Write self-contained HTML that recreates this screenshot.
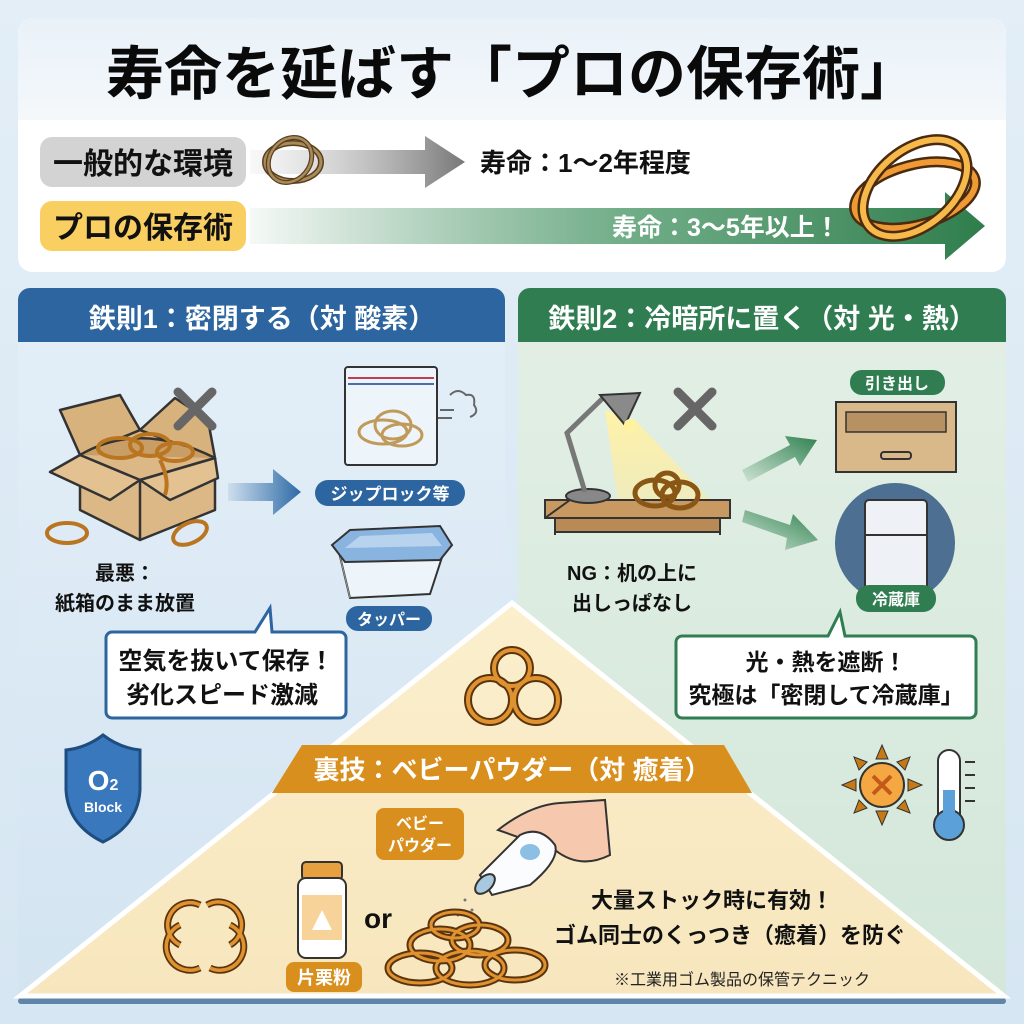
<!DOCTYPE html>
<html><head><meta charset="utf-8"><style>
html,body{margin:0;padding:0;width:1024px;height:1024px;overflow:hidden;background:#dce9f4}
svg{display:block}
text{font-family:"Liberation Sans","Noto Sans CJK JP",sans-serif;font-weight:bold}
</style></head><body>
<svg width="1024" height="1024" viewBox="0 0 1024 1024" xmlns="http://www.w3.org/2000/svg">
<defs>
<linearGradient id="bg" x1="0" y1="0" x2="0" y2="1"><stop offset="0" stop-color="#e3eef7"/><stop offset="1" stop-color="#d6e6f2"/></linearGradient>
<linearGradient id="tband" x1="0" y1="0" x2="0" y2="1"><stop offset="0" stop-color="#e9f1f8"/><stop offset="1" stop-color="#f4f8fb"/></linearGradient>
<linearGradient id="garr" x1="0" y1="0" x2="1" y2="0"><stop offset="0" stop-color="#bcbcbc" stop-opacity="0.1"/><stop offset="1" stop-color="#777"/></linearGradient>
<linearGradient id="grarr" x1="0" y1="0" x2="1" y2="0"><stop offset="0" stop-color="#3d8a5a" stop-opacity="0.05"/><stop offset="0.5" stop-color="#4f9a6c" stop-opacity="0.8"/><stop offset="1" stop-color="#2f7d4c"/></linearGradient>
<linearGradient id="barr" x1="0" y1="0" x2="1" y2="0"><stop offset="0" stop-color="#2e6aa6" stop-opacity="0.1"/><stop offset="1" stop-color="#2e6aa6"/></linearGradient>
<linearGradient id="grarr2" x1="0" y1="1" x2="1" y2="0"><stop offset="0" stop-color="#3a8a58" stop-opacity="0.1"/><stop offset="1" stop-color="#2f8050"/></linearGradient>
<linearGradient id="lpanel" x1="0" y1="0" x2="0" y2="1"><stop offset="0" stop-color="#e4eff8"/><stop offset="1" stop-color="#d3e4f1"/></linearGradient>
<linearGradient id="rpanel" x1="0" y1="0" x2="0" y2="1"><stop offset="0" stop-color="#e3efe5"/><stop offset="1" stop-color="#d3e7da"/></linearGradient>
<linearGradient id="tri" x1="0" y1="0" x2="0" y2="1"><stop offset="0" stop-color="#fbefcd"/><stop offset="1" stop-color="#f7e6bd"/></linearGradient>
<linearGradient id="beam" x1="0" y1="0" x2="0" y2="1"><stop offset="0" stop-color="#fff3a8"/><stop offset="1" stop-color="#fbe9a0" stop-opacity="0.5"/></linearGradient>
</defs>
<rect width="1024" height="1024" fill="url(#bg)"/>
<!-- top card -->
<rect x="18" y="18" width="988" height="254" rx="14" fill="#ffffff"/>
<path d="M18 32 a14 14 0 0 1 14 -14 h960 a14 14 0 0 1 14 14 v88 h-988z" fill="url(#tband)"/>
<text x="512" y="94" font-size="58" text-anchor="middle" fill="#0a0a0a">寿命を延ばす「プロの保存術」</text>
<rect x="40" y="137" width="206" height="50" rx="12" fill="#d3d3d3"/>
<text x="143" y="174" font-size="30" text-anchor="middle" fill="#111">一般的な環境</text>
<path d="M250 150 h175 v-14 l40 26 l-40 26 v-14 h-175z" fill="url(#garr)"/>
<ellipse cx="293" cy="162" rx="28" ry="19" fill="none" stroke="#5a4020" stroke-width="6"/>
<ellipse cx="293" cy="162" rx="28" ry="19" fill="none" stroke="#a98a5a" stroke-width="3"/>
<ellipse cx="290" cy="160" rx="20" ry="24" fill="none" stroke="#5a4020" stroke-width="5" transform="rotate(40 290 160)"/>
<ellipse cx="290" cy="160" rx="20" ry="24" fill="none" stroke="#a98a5a" stroke-width="2.5" transform="rotate(40 290 160)"/>
<text x="480" y="172" font-size="26" fill="#111">寿命：1〜2年程度</text>
<rect x="40" y="201" width="206" height="50" rx="12" fill="#f9cf62"/>
<text x="143" y="238" font-size="30" text-anchor="middle" fill="#111">プロの保存術</text>
<path d="M250 208 h695 v-16 l40 34 l-40 34 v-16 h-695z" fill="url(#grarr)"/>
<text x="612" y="236" font-size="25" fill="#fff">寿命：3〜5年以上！</text>
<g fill="none" stroke-linecap="round">
<ellipse cx="915" cy="195" rx="62" ry="30" transform="rotate(-15 915 195)" stroke="#4a2a10" stroke-width="11"/>
<ellipse cx="915" cy="195" rx="62" ry="30" transform="rotate(-15 915 195)" stroke="#ef9a32" stroke-width="6"/>
<ellipse cx="915" cy="188" rx="60" ry="38" transform="rotate(-40 915 188)" stroke="#4a2a10" stroke-width="11"/>
<ellipse cx="915" cy="188" rx="60" ry="38" transform="rotate(-40 915 188)" stroke="#f6b94a" stroke-width="6"/>
</g>
<!-- panels -->
<path d="M18 300 a12 12 0 0 1 12 -12 h463 a12 12 0 0 1 12 12 v700 h-487z" fill="url(#lpanel)"/>
<path d="M18 300 a12 12 0 0 1 12 -12 h463 a12 12 0 0 1 12 12 v42 h-487z" fill="#2c659f"/>
<text x="262" y="328" font-size="27" text-anchor="middle" fill="#fff">鉄則1：密閉する（対 酸素）</text>
<path d="M518 300 a12 12 0 0 1 12 -12 h464 a12 12 0 0 1 12 12 v700 h-488z" fill="url(#rpanel)"/>
<path d="M518 300 a12 12 0 0 1 12 -12 h464 a12 12 0 0 1 12 12 v42 h-488z" fill="#2f7d51"/>
<text x="762" y="328" font-size="27" text-anchor="middle" fill="#fff">鉄則2：冷暗所に置く（対 光・熱）</text>
<rect x="18" y="998" width="988" height="6" rx="3" fill="#5f86a8"/>
<!-- triangle -->
<path d="M512 603 L1004 996 L20 996 Z" fill="url(#tri)" stroke="#fff" stroke-width="5"/>
<path d="M302 745 H724 L752 793 H272 Z" fill="#d98f1e"/>
<text x="512" y="779" font-size="26" text-anchor="middle" fill="#fff">裏技：ベビーパウダー（対 癒着）</text>
<!-- left panel content -->
<g stroke="#333" stroke-width="2.5" stroke-linejoin="round">
<path d="M80 455 L140 430 L215 458 L215 510 L140 540 L80 510 Z" fill="#dcb886"/>
<path d="M140 480 L140 540" fill="none"/>
<path d="M80 455 L140 480 L215 458" fill="none"/>
<path d="M80 455 L140 480 L110 500 L50 472 Z" fill="#e3c190"/>
<path d="M215 458 L140 480 L170 500 L218 478 Z" fill="#e3c190"/>
<path d="M80 455 L60 410 L120 395 L140 430 Z" fill="#d8b27c"/>
<path d="M140 430 L175 398 L208 420 L215 458 Z" fill="#d8b27c"/>
<path d="M80 455 Q140 420 215 458" fill="#c99d66"/>
</g>
<g fill="none" stroke="#b9751f" stroke-width="4">
<ellipse cx="120" cy="448" rx="22" ry="10"/><ellipse cx="150" cy="445" rx="20" ry="11"/><ellipse cx="175" cy="452" rx="18" ry="9"/>
<path d="M160 460 Q170 480 165 495"/>
<ellipse cx="67" cy="533" rx="20" ry="10"/><ellipse cx="190" cy="533" rx="18" ry="10" transform="rotate(-25 190 533)"/>
</g>
<path d="M178 392 L212 426 M212 392 L178 426" stroke="#666" stroke-width="9" stroke-linecap="round"/>
<path d="M228 483 h45 v-14 l28 23 l-28 23 v-14 h-45z" fill="url(#barr)"/>
<rect x="345" y="367" width="92" height="98" rx="3" fill="#eef5fa" stroke="#333" stroke-width="2"/>
<line x1="348" y1="378" x2="434" y2="378" stroke="#c04050" stroke-width="2"/><line x1="348" y1="384" x2="434" y2="384" stroke="#4a6fb0" stroke-width="2"/>
<g fill="none" stroke="#c09a5a" stroke-width="3"><ellipse cx="383" cy="432" rx="24" ry="12"/><ellipse cx="393" cy="425" rx="18" ry="14"/><ellipse cx="402" cy="435" rx="20" ry="11"/></g>
<path d="M450 395 q8 -8 16 0 q10 -2 8 10 q6 8 -4 12 M440 410 h14 M438 418 h14" fill="none" stroke="#666" stroke-width="2"/>
<rect x="315" y="480" width="150" height="26" rx="13" fill="#2c659f"/>
<text x="390" y="500" font-size="17" text-anchor="middle" fill="#fff">ジップロック等</text>
<path d="M338 548 L350 598 L430 594 L445 548 Z" fill="#eef5fa" stroke="#333" stroke-width="2"/>
<path d="M350 598 L338 548" fill="none" stroke="#999" stroke-width="1"/>
<path d="M332 545 L350 530 L440 526 L452 545 L440 560 L345 562 Z" fill="#8ab4e0" stroke="#333" stroke-width="2"/>
<path d="M345 548 L360 536 L432 533 L442 546 Z" fill="#b7d3ee"/>
<rect x="346" y="606" width="86" height="25" rx="12" fill="#2c659f"/>
<text x="389" y="625" font-size="16" text-anchor="middle" fill="#fff">タッパー</text>
<text x="125" y="580" font-size="20" text-anchor="middle" fill="#111">最悪：</text>
<text x="125" y="610" font-size="20" text-anchor="middle" fill="#111">紙箱のまま放置</text>
<path d="M112 632 H255 L270 608 L272 632 H340 a6 6 0 0 1 6 6 V712 a6 6 0 0 1 -6 6 H112 a6 6 0 0 1 -6 -6 V638 a6 6 0 0 1 6 -6Z" fill="#fff" stroke="#2c659f" stroke-width="3"/>
<text x="226" y="669" font-size="24" text-anchor="middle" fill="#111">空気を抜いて保存！</text>
<text x="222" y="703" font-size="24" text-anchor="middle" fill="#111">劣化スピード激減</text>
<path d="M103 735 Q120 748 140 750 V790 Q138 825 103 842 Q68 825 66 790 V750 Q86 748 103 735Z" fill="#3a78bd" stroke="#1e4e80" stroke-width="3"/>
<text x="103" y="790" font-size="28" text-anchor="middle" fill="#fff">O<tspan font-size="16">2</tspan></text>
<text x="103" y="812" font-size="14" text-anchor="middle" fill="#fff">Block</text>
<!-- right panel content -->
<path d="M605 410 L635 420 L720 510 L620 515 Z" fill="url(#beam)"/>
<rect x="545" y="500" width="185" height="18" fill="#c89a62" stroke="#333" stroke-width="2"/>
<path d="M570 500 L545 518 M555 518 V535 M720 518 V535" stroke="#333" stroke-width="2"/>
<rect x="555" y="518" width="165" height="14" fill="#b88a55" stroke="#333" stroke-width="2"/>
<ellipse cx="588" cy="496" rx="22" ry="7" fill="#888" stroke="#333" stroke-width="2"/>
<path d="M585 492 L567 433 L603 398" fill="none" stroke="#777" stroke-width="5"/>
<path d="M600 395 L640 393 L625 425 Z" fill="#8a8a8a" stroke="#333" stroke-width="2"/>
<circle cx="630" cy="425" r="6" fill="#fff3a0"/>
<g fill="none" stroke="#8a5616" stroke-width="5"><ellipse cx="655" cy="493" rx="20" ry="13"/><ellipse cx="680" cy="495" rx="18" ry="13"/><ellipse cx="667" cy="485" rx="12" ry="12"/></g>
<path d="M678 392 L712 426 M712 392 L678 426" stroke="#666" stroke-width="9" stroke-linecap="round"/>
<path d="M742 470 L790 445 L785 436 L817 440 L800 466 L795 457 L748 482 Z" fill="url(#grarr2)"/>
<path d="M745 510 L790 525 L793 514 L818 540 L785 550 L787 538 L742 522 Z" fill="url(#grarr2)"/>
<rect x="850" y="370" width="95" height="25" rx="12" fill="#2f7d51"/>
<text x="897" y="389" font-size="16" text-anchor="middle" fill="#fff">引き出し</text>
<rect x="836" y="402" width="120" height="70" fill="#d9b889" stroke="#333" stroke-width="2"/>
<rect x="846" y="412" width="100" height="20" fill="#b89162" stroke="#333" stroke-width="1.5"/>
<rect x="881" y="452" width="30" height="7" rx="3" fill="none" stroke="#333" stroke-width="2"/>
<circle cx="895" cy="543" r="60" fill="#4d6f91"/>
<rect x="865" y="500" width="62" height="90" rx="4" fill="#eef2f7" stroke="#333" stroke-width="2"/>
<line x1="865" y1="535" x2="927" y2="535" stroke="#333" stroke-width="2"/>
<rect x="856" y="585" width="80" height="27" rx="13" fill="#2f7d51"/>
<text x="896" y="605" font-size="16" text-anchor="middle" fill="#fff">冷蔵庫</text>
<text x="632" y="580" font-size="20" text-anchor="middle" fill="#111">NG：机の上に</text>
<text x="632" y="610" font-size="20" text-anchor="middle" fill="#111">出しっぱなし</text>
<path d="M682 636 H828 L840 612 L845 636 H970 a6 6 0 0 1 6 6 V712 a6 6 0 0 1 -6 6 H682 a6 6 0 0 1 -6 -6 V642 a6 6 0 0 1 6 -6Z" fill="#fff" stroke="#2f7d51" stroke-width="3"/>
<text x="826" y="670" font-size="23" text-anchor="middle" fill="#111">光・熱を遮断！</text>
<text x="826" y="703" font-size="23" text-anchor="middle" fill="#111">究極は「密閉して冷蔵庫」</text>
<g transform="translate(882 785)">
<g fill="#c67a16" stroke="#333" stroke-width="1">
<path d="M0 -40 L6 -26 L-6 -26Z"/><path d="M0 40 L6 26 L-6 26Z"/><path d="M-40 0 L-26 6 L-26 -6Z"/><path d="M40 0 L26 6 L26 -6Z"/>
<path d="M-28 -28 L-15 -23 L-23 -15Z"/><path d="M28 28 L15 23 L23 15Z"/><path d="M28 -28 L23 -15 L15 -23Z"/><path d="M-28 28 L-23 15 L-15 23Z"/>
</g>
<circle r="22" fill="#f5a742" stroke="#333" stroke-width="2"/>
<path d="M-9 -9 L9 9 M9 -9 L-9 9" stroke="#c25a1a" stroke-width="4"/>
</g>
<rect x="938" y="750" width="22" height="75" rx="11" fill="#fff" stroke="#333" stroke-width="2"/>
<circle cx="949" cy="825" r="15" fill="#5ba0d8" stroke="#333" stroke-width="2"/>
<rect x="943" y="790" width="12" height="35" fill="#5ba0d8"/>
<g stroke="#333" stroke-width="2"><line x1="965" y1="762" x2="975" y2="762"/><line x1="965" y1="775" x2="975" y2="775"/><line x1="965" y1="788" x2="975" y2="788"/><line x1="965" y1="801" x2="975" y2="801"/></g>
<!-- triangle content -->
<g fill="none">
<g stroke="#5a3410" stroke-width="8"><circle cx="512" cy="668" r="18"/><circle cx="490" cy="700" r="22"/><circle cx="536" cy="700" r="22"/></g>
<g stroke="#e0922e" stroke-width="4"><circle cx="512" cy="668" r="18"/><circle cx="490" cy="700" r="22"/><circle cx="536" cy="700" r="22"/></g>
</g>
<rect x="376" y="808" width="88" height="52" rx="8" fill="#d98f1e"/>
<text x="420" y="829" font-size="16" text-anchor="middle" fill="#fff">ベビー</text>
<text x="420" y="851" font-size="16" text-anchor="middle" fill="#fff">パウダー</text>
<path d="M498 830 Q530 805 560 803 L605 800 L610 855 Q580 870 555 850 Z" fill="#f6c9ae" stroke="#333" stroke-width="2"/>
<path d="M480 875 L520 835 Q540 825 555 845 Q560 860 530 885 L492 895 Z" fill="#fafcfe" stroke="#333" stroke-width="2"/>
<ellipse cx="530" cy="852" rx="10" ry="8" fill="#8cbfe3"/>
<ellipse cx="485" cy="884" rx="7" ry="12" transform="rotate(45 485 884)" fill="#a8c8e0" stroke="#333" stroke-width="2"/>
<g fill="#777"><circle cx="465" cy="900" r="1.5"/><circle cx="472" cy="910" r="1.5"/><circle cx="458" cy="915" r="1.5"/><circle cx="466" cy="925" r="1.5"/><circle cx="478" cy="920" r="1.5"/><circle cx="452" cy="930" r="1.5"/><circle cx="470" cy="935" r="1.5"/></g>
<g fill="none" stroke-width="7">
<g stroke="#5a3410"><path d="M200 905 A22 22 0 1 0 180 945"/><path d="M207 905 A22 22 0 1 1 230 945"/><path d="M180 925 A22 22 0 1 0 200 968"/><path d="M230 925 A22 22 0 1 1 210 968"/></g>
</g>
<g fill="none" stroke-width="3.5" stroke="#e0922e"><path d="M200 905 A22 22 0 1 0 180 945"/><path d="M207 905 A22 22 0 1 1 230 945"/><path d="M180 925 A22 22 0 1 0 200 968"/><path d="M230 925 A22 22 0 1 1 210 968"/></g>
<rect x="302" y="862" width="40" height="18" rx="4" fill="#e6a040" stroke="#333" stroke-width="2"/>
<rect x="298" y="878" width="48" height="80" rx="8" fill="#fff" stroke="#333" stroke-width="2"/>
<rect x="302" y="895" width="40" height="45" fill="#f7d39a"/>
<path d="M312 930 L322 910 L332 930 Z" fill="#fff"/>
<rect x="286" y="962" width="76" height="30" rx="8" fill="#d98f1e"/>
<text x="324" y="984" font-size="18" text-anchor="middle" fill="#fff">片栗粉</text>
<text x="378" y="928" font-size="28" text-anchor="middle" fill="#111">or</text>
<g fill="none" stroke="#5a3410" stroke-width="7">
<ellipse cx="440" cy="945" rx="30" ry="16"/><ellipse cx="480" cy="940" rx="28" ry="15"/><ellipse cx="420" cy="968" rx="32" ry="15"/><ellipse cx="470" cy="968" rx="34" ry="17"/><ellipse cx="515" cy="965" rx="30" ry="15"/><ellipse cx="455" cy="925" rx="24" ry="13"/>
</g>
<g fill="none" stroke="#e0922e" stroke-width="3">
<ellipse cx="440" cy="945" rx="30" ry="16"/><ellipse cx="480" cy="940" rx="28" ry="15"/><ellipse cx="420" cy="968" rx="32" ry="15"/><ellipse cx="470" cy="968" rx="34" ry="17"/><ellipse cx="515" cy="965" rx="30" ry="15"/><ellipse cx="455" cy="925" rx="24" ry="13"/>
</g>
<text x="712" y="908" font-size="22" text-anchor="middle" fill="#111">大量ストック時に有効！</text>
<text x="730" y="943" font-size="22" text-anchor="middle" fill="#111">ゴム同士のくっつき（癒着）を防ぐ</text>
<text x="742" y="985" font-size="16" text-anchor="middle" fill="#222" style="font-weight:normal">※工業用ゴム製品の保管テクニック</text>
</svg>
</body></html>
